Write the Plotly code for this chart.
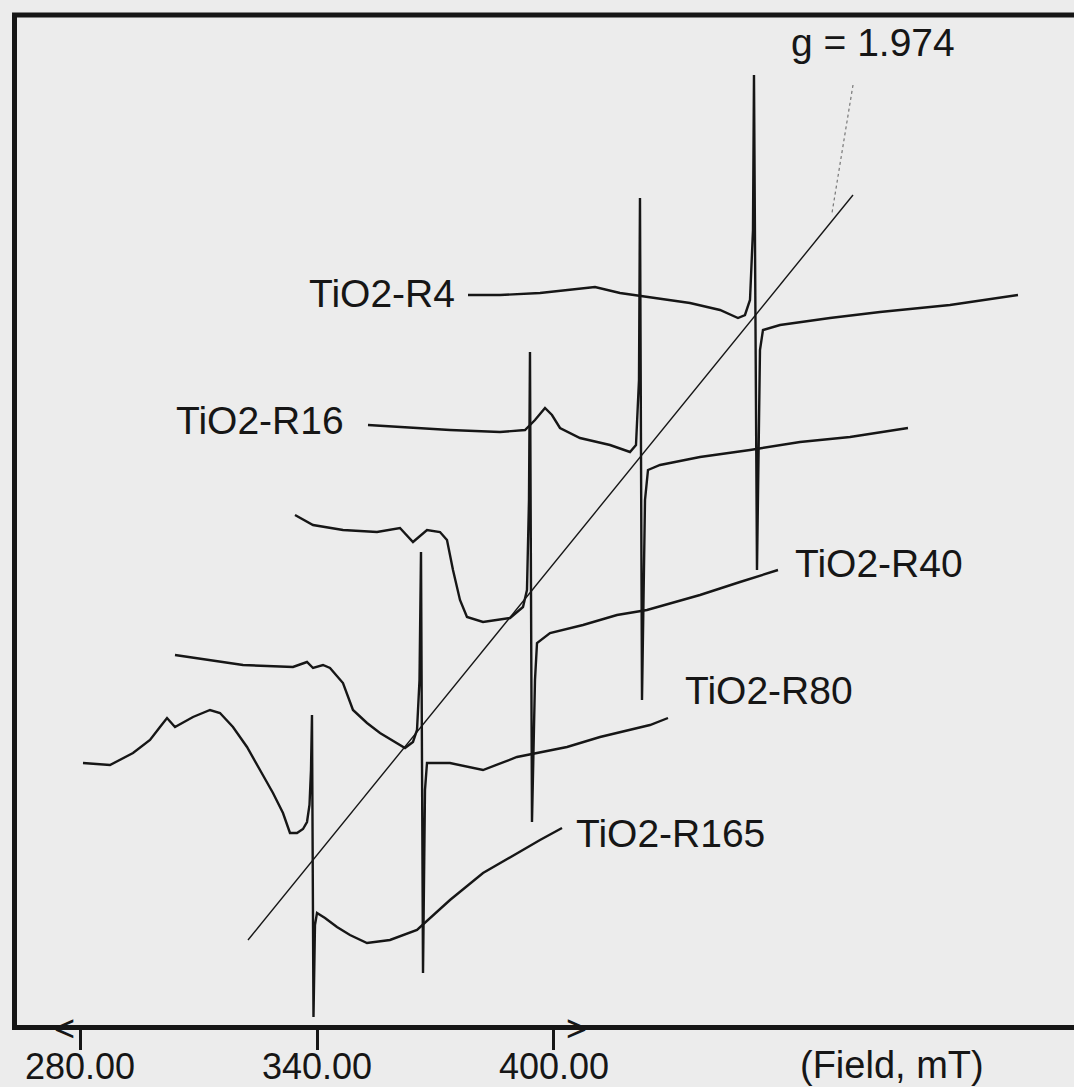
import plotly.graph_objects as go

# ---- data (field in mT on the front-trace axis, signal in a.u.) ----
samples = ["TiO2-R4", "TiO2-R16", "TiO2-R40", "TiO2-R80", "TiO2-R165"]

field_R165 = [280.76, 287.59, 293.42, 297.72, 300.25, 302.03, 304.05, 308.61, 312.91, 315.44,
              318.73, 322.28, 325.57, 328.86, 331.39, 333.16, 334.94, 336.46, 337.47, 338.10,
              338.48, 338.73, 339.11, 339.49, 340.00, 342.03, 345.06, 348.35, 352.66, 358.48,
              365.32, 373.67, 382.03, 390.63, 396.46, 402.03]
signal_R165 = [264, 262, 274, 287, 300, 309, 300, 310, 317, 314,
               300, 280, 257, 234, 214, 194, 194, 198, 205, 222,
               257, 312, 10, 102, 114, 109, 100, 92, 84, 87,
               97, 127, 154, 174, 187, 199]

field_R80 = [304.05, 312.91, 321.27, 333.92, 337.47, 338.99, 341.52, 343.29, 346.58, 349.11,
             352.66, 355.95, 360.25, 362.28, 364.30, 365.32, 365.95, 366.33, 366.84, 367.34,
             367.85, 373.67, 382.03, 390.63, 403.29, 411.65, 424.30, 428.86]
signal_R80 = [372, 367, 362, 360, 365, 359, 362, 359, 344, 317,
              304, 294, 284, 279, 285, 297, 347, 475, 54, 237,
              264, 264, 257, 270, 280, 290, 302, 309]

field_R40 = [334.43, 338.99, 346.58, 355.19, 361.01, 364.30, 367.85, 371.14, 372.91, 374.43,
             376.20, 377.97, 382.03, 388.86, 392.15, 393.16, 393.67, 393.92, 394.43, 395.19,
             395.70, 398.99, 407.34, 415.95, 423.54, 436.96, 447.09, 456.71]
signal_R40 = [512, 502, 497, 495, 499, 485, 497, 495, 487, 457,
              427, 410, 405, 409, 420, 437, 527, 675, 205, 347,
              384, 394, 402, 412, 417, 432, 445, 457]

field_R16 = [352.91, 361.01, 373.67, 386.33, 392.66, 395.19, 397.72, 399.49, 401.52, 406.58,
             414.18, 419.24, 420.76, 421.52, 421.77, 422.28, 423.04, 423.80, 426.84, 436.96,
             449.62, 462.28, 474.94, 489.62]
signal_R16 = [602, 600, 597, 595, 597, 607, 619, 612, 599, 589,
              582, 575, 582, 647, 829, 327, 527, 557, 562, 570,
              577, 585, 590, 599]

field_R4 = [378.23, 386.33, 396.46, 404.05, 410.38, 416.71, 424.30, 434.43, 442.03, 446.58,
            448.35, 449.62, 450.38, 450.63, 451.39, 452.15, 452.91, 457.22, 469.87, 482.53,
            500.25, 517.47]
signal_R4 = [732, 732, 734, 737, 740, 734, 730, 724, 717, 709,
             712, 727, 797, 952, 457, 677, 697, 702, 709, 715,
             722, 732]

# g = 1.974 guide line and its label pointer
g_line_field = [322.53, 475.70]
g_line_signal = [87, 832]
g_pointer_field = [475.70, 470.38]
g_pointer_signal = [942, 814]

tick_vals = [280, 340, 400]
tick_text = ["280.00", "340.00", "400.00"]

FONT = "Liberation Sans, Arial, sans-serif"
INK = "#161616"
BG = "#ececec"

fig = go.Figure()

series = [(field_R4, signal_R4), (field_R16, signal_R16), (field_R40, signal_R40),
          (field_R80, signal_R80), (field_R165, signal_R165)]
for name, (fx, sy) in zip(samples, series):
    fig.add_trace(go.Scatter(x=fx, y=sy, mode="lines", name=name,
                             line=dict(color=INK, width=2.4), hoverinfo="skip"))

fig.add_trace(go.Scatter(x=g_line_field, y=g_line_signal, mode="lines",
                         line=dict(color=INK, width=1.4), hoverinfo="skip"))
fig.add_trace(go.Scatter(x=g_pointer_field, y=g_pointer_signal, mode="lines",
                         line=dict(color="#777777", width=1.2, dash="dot"), hoverinfo="skip"))

annotations = [
    dict(x=375.4, y=734, text="TiO2-R4", xanchor="right", yanchor="middle"),
    dict(x=347.3, y=607, text="TiO2-R16", xanchor="right", yanchor="middle"),
    dict(x=460.5, y=464, text="TiO2-R40", xanchor="left", yanchor="middle"),
    dict(x=432.7, y=337, text="TiO2-R80", xanchor="left", yanchor="middle"),
    dict(x=405.1, y=194, text="TiO2-R165", xanchor="left", yanchor="middle"),
    dict(x=480.8, y=985, text="g = 1.974", xanchor="center", yanchor="middle"),
]
anns = []
for a in annotations:
    a.update(xref="x", yref="y", showarrow=False,
             font=dict(family=FONT, size=39, color=INK))
    anns.append(a)

# items below the plot area use paper y (plot bottom = 0, plot height = 1010 px)
anns.append(dict(x=485.5, y=-0.0396, xref="x", yref="paper", text="(Field, mT)", showarrow=False,
                 xanchor="center", yanchor="middle",
                 font=dict(family=FONT, size=38, color=INK)))
anns.append(dict(x=276.2, y=-0.003, xref="x", yref="paper", text="<", showarrow=False,
                 xanchor="center", yanchor="middle",
                 font=dict(family=FONT, size=36, color=INK)))
anns.append(dict(x=405.6, y=-0.003, xref="x", yref="paper", text=">", showarrow=False,
                 xanchor="center", yanchor="middle",
                 font=dict(family=FONT, size=36, color=INK)))

fig.update_layout(
    width=1074, height=1087,
    margin=dict(l=17, r=0, t=15, b=62, autoexpand=False),
    paper_bgcolor=BG, plot_bgcolor=BG,
    showlegend=False,
    annotations=anns,
    shapes=[dict(type="line", xref="paper", yref="paper", x0=-0.0047, x1=1.0, y0=1.0, y1=1.0,
                 line=dict(color=INK, width=5))],
    xaxis=dict(range=[264.05, 531.65], tickvals=tick_vals, ticktext=tick_text,
               ticks="outside", ticklen=20, tickwidth=3, tickcolor=INK,
               ticklabelstandoff=-14,
               showline=True, linewidth=5, linecolor=INK,
               showgrid=False, zeroline=False, automargin=False,
               tickfont=dict(family=FONT, size=36, color=INK)),
    yaxis=dict(range=[2, 1012], showline=True, linewidth=5, linecolor=INK,
               showticklabels=False, ticks="", showgrid=False, zeroline=False,
               automargin=False),
)

fig.write_html("out.html")
